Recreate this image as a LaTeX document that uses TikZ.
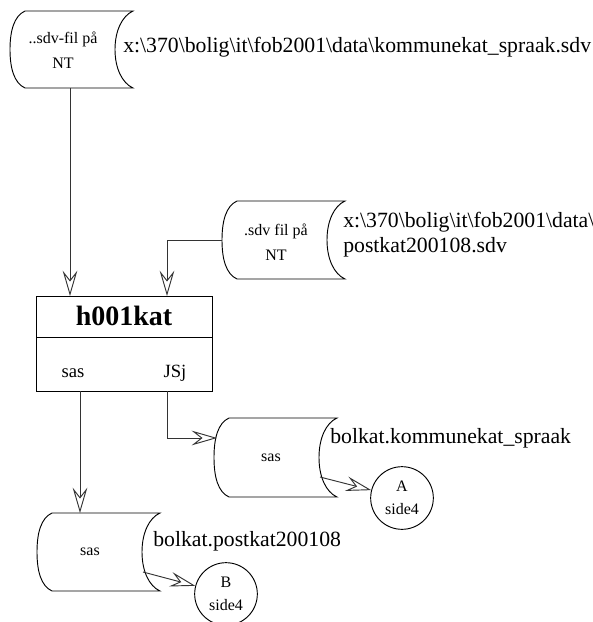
\documentclass[tikz,border=0pt]{standalone}
\usepackage{fontspec}
\setmainfont{Liberation Serif}
\usetikzlibrary{arrows.meta,calc}
\newcommand\dbshape[4]{%
  \draw[shapeline] ({#1+15},#2) -- (#3,#2)
    .. controls ({#3-11},{#2+5}) and ({#3-18},{#2+20}) .. ({#3-18},{(#2+#4)/2})
    .. controls ({#3-18},{#4-20}) and ({#3-11},{#4-5}) .. (#3,#4)
    -- ({#1+15},#4)
    .. controls ({#1+4},{#4-5}) and (#1,{#4-20}) .. (#1,{(#2+#4)/2})
    .. controls (#1,{#2+20}) and ({#1+4},{#2+5}) .. cycle;}
\tikzset{
  shapeline/.style={line width=0.7pt, draw=black},
  conn/.style={line width=0.7pt, draw=black!80, -{Stealth[open, length=19pt, width=11pt, inset=7pt, fill=white]}},
  smalltxt/.style={font=\fontsize{12}{18.5}\selectfont, align=center, inner sep=0pt},
  bigtxt/.style={font=\fontsize{16.3}{18.75}\selectfont, align=left, anchor=west, inner sep=0pt},
  boxtxt/.style={font=\fontsize{14}{16}\selectfont, inner sep=0pt},
  pagecirc/.style={circle, draw, line width=0.7pt, minimum size=47pt, inner sep=0pt, align=center, font=\fontsize{12}{17}\selectfont}
}
\begin{document}
\begin{tikzpicture}[x=0.75pt,y=-0.75pt]
\useasboundingbox (0,0) rectangle (593,622);
% stored data shapes
\dbshape{10}{11}{133}{88}
\dbshape{222}{201}{345}{279}
\dbshape{214}{418}{337}{497}
\dbshape{37}{513}{160}{591}
\node[smalltxt] (s1) at (63,50) {..sdv-fil på\\NT};
\node[smalltxt] (s2) at (276,242) {.sdv fil på\\NT};
\node[smalltxt] (s3) at (271,458) {sas};
\node[smalltxt] (s4) at (90,552) {sas};
% labels
\node[bigtxt] (l1) at (123,47) {x:\textbackslash 370\textbackslash bolig\textbackslash it\textbackslash fob2001\textbackslash data\textbackslash kommunekat\_spraak.sdv};
\node[bigtxt] (l2) at (343,235) {x:\textbackslash 370\textbackslash bolig\textbackslash it\textbackslash fob2001\textbackslash data\textbackslash\\postkat200108.sdv};
\node[bigtxt] (l3) at (330,438) {bolkat.kommunekat\_spraak};
\node[bigtxt] (l4) at (153,541) {bolkat.postkat200108};
% process box
\node[draw, line width=0.7pt, minimum width=132pt, minimum height=71.25pt, inner sep=0pt] (box) at (124,343.5) {};
\draw[line width=0.7pt] (36,337) -- (212,337);
\node[font=\fontsize{21}{24}\selectfont\bfseries, inner sep=0pt] (title) at (124,316) {h001kat};
\node[boxtxt] (p1) at (73,373) {sas};
\node[boxtxt] (p2) at (175,373) {JSj};
% page connectors
\node[pagecirc] (A) at (402,498) {A\\side4};
\node[pagecirc] (B) at (226,594) {B\\side4};
% connection points
\coordinate (s1out) at (70,88);
\coordinate (boxin1) at (70,296);
\coordinate (s2out) at (222,240);
\coordinate (bend2) at (167,240);
\coordinate (boxin2) at (167,296);
\coordinate (boxout1) at (80,391);
\coordinate (s4in) at (80,513);
\coordinate (boxout2) at (167,391);
\coordinate (bend3) at (167,438);
\coordinate (s3in) at (217,438);
\coordinate (s3out) at (320,477);
\coordinate (s4out) at (143,572);
% connectors
\draw[conn] (s1out) -- (boxin1);
\draw[conn] (s2out) -- (bend2) -- (boxin2);
\draw[conn] (boxout1) -- (s4in);
\draw[conn] (boxout2) -- (bend3) -- (s3in);
\draw[conn] (s3out) -- (A);
\draw[conn] (s4out) -- (B);
\end{tikzpicture}
\end{document}
